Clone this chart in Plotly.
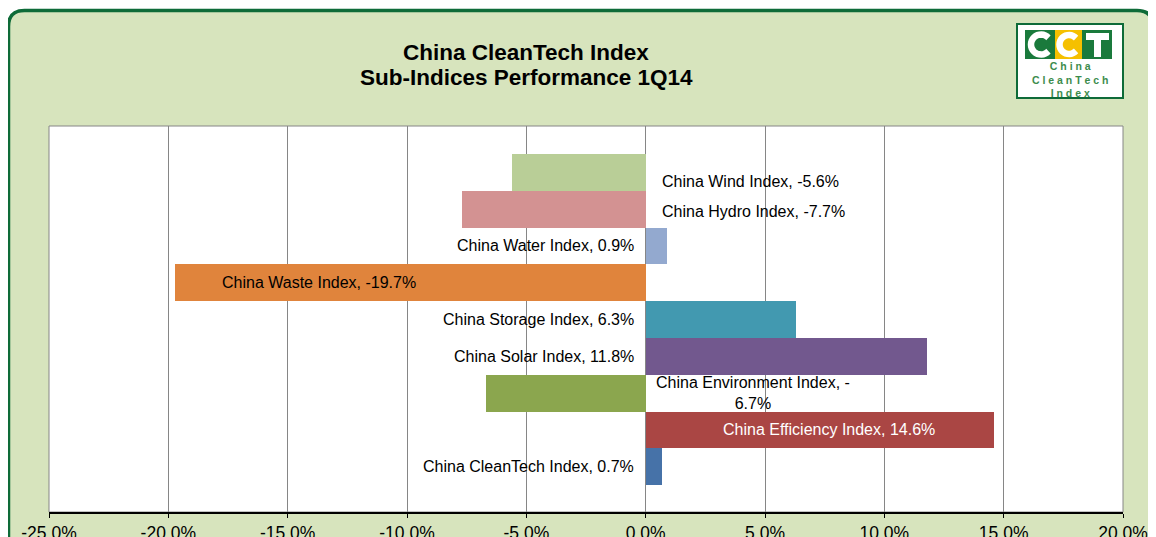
import math
import plotly.graph_objects as go

# ── DATA ────────────────────────────────────────────────────────
indices = ['China Wind Index', 'China Hydro Index', 'China Water Index',
           'China Waste Index', 'China Storage Index', 'China Solar Index',
           'China Environment Index', 'China Efficiency Index',
           'China CleanTech Index']
returns = [-5.6, -7.7, 0.9, -19.7, 6.3, 11.8, -6.7, 14.6, 0.7]
colors = ['#B9CE97', '#D39292', '#93A9CF', '#E0843C', '#4299B0',
          '#72588E', '#8BA64E', '#AA4644', '#4672A8']

tick_vals = [-25, -20, -15, -10, -5, 0, 5, 10, 15, 20]
tick_text = ['-25.0%', '-20.0%', '-15.0%', '-10.0%', '-5.0%', '0.0%',
             '5.0%', '10.0%', '15.0%', '20.0%']

title_lines = ['China CleanTech Index', 'Sub-Indices Performance 1Q14']
logo_words = ['China', 'CleanTech', 'Index']

# labels that sit inside their bar (x position in %), the rest hug the zero line
inside_label_x = {'China Waste Index': -13.7, 'China Efficiency Index': 7.7}
label_yshift = {'China Wind Index': -9, 'China Hydro Index': -2}

# ── LAYOUT NUMBERS (pixels of the screenshot) ───────────────────
# the page body adds an 8px margin, so the figure sits 8px right/down
OFF = 8
W, H = 1156, 537
PLOT_X0, PLOT_X1, PLOT_Y0, PLOT_Y1 = 49, 1123, 126, 512
PW, PH = PLOT_X1 - PLOT_X0, PLOT_Y1 - PLOT_Y0
L, T = PLOT_X0 - OFF, PLOT_Y0 - OFF
R, B = W - L - PW, H - T - PH
FONT = 'Liberation Sans, Arial, sans-serif'
GREEN_BG = '#D7E4BD'
GREEN_DARK = '#0E6B38'
LOGO_GREEN = '#1A7A3C'


def px(x):
    return (x - PLOT_X0) / PW


def py(y):
    return (PLOT_Y1 - y) / PH


def rounded_rect(x0, y0, x1, y1, r):
    # screenshot pixel box -> paper path with rounded corners
    a, b, c, d = px(x0), py(y1), px(x1), py(y0)
    rx, ry = r / PW, r / PH
    return (f'M{a + rx},{d} L{c - rx},{d} Q{c},{d} {c},{d - ry} '
            f'L{c},{b + ry} Q{c},{b} {c - rx},{b} L{a + rx},{b} '
            f'Q{a},{b} {a},{b + ry} L{a},{d - ry} Q{a},{d} {a + rx},{d} Z')


def letter_c(cx, cy, r):
    # open arc for the logo "C"
    pts = []
    for k in range(25):
        ang = math.radians(42 + k * (276 / 24))
        pts.append((px(cx + r * math.cos(ang)), py(cy - r * math.sin(ang))))
    return 'M' + ' L'.join(f'{x},{y}' for x, y in pts)


def pbox(x0, y0, x1, y1, color):
    return dict(type='rect', x0=px(x0), x1=px(x1), y0=py(y1), y1=py(y0),
                xref='paper', yref='paper', fillcolor=color,
                line=dict(width=0), layer='above')


# ── CHART ───────────────────────────────────────────────────────
pos = list(range(len(indices)))

fig = go.Figure()
fig.add_trace(go.Bar(
    x=returns,
    y=pos,
    orientation='h',
    width=1,
    marker=dict(color=colors, line=dict(width=0)),
    hovertext=indices,
    hoverinfo='text+x',
))

# data labels
for i, (name, val) in enumerate(zip(indices, returns)):
    text = f'{name}, {val:.1f}%'
    if name == 'China Environment Index':
        text = f'{name}, -<br>{abs(val):.1f}%'
    ann = dict(y=i, yref='y', xref='x', text=text, showarrow=False,
               yanchor='middle', align='center',
               yshift=label_yshift.get(name, 0),
               font=dict(family=FONT, size=16, color='black'))
    if name in inside_label_x:
        ann.update(x=inside_label_x[name], xanchor='center')
        if name == 'China Efficiency Index':
            ann['font'] = dict(family=FONT, size=16, color='white')
    elif val < 0:
        ann.update(x=0, xanchor='left', xshift=8 if '<br>' in text else 14)
    else:
        ann.update(x=0, xanchor='right', xshift=-10)
    fig.add_annotation(**ann)

# title
for line, y in zip(title_lines, [52, 77]):
    fig.add_annotation(x=px(526), y=py(y), xref='paper', yref='paper',
                       text=f'<b>{line}</b>', showarrow=False,
                       xanchor='center', yanchor='middle',
                       font=dict(family=FONT, size=22.5, color='black'))

# ── FRAME + LOGO ────────────────────────────────────────────────
shapes = [
    dict(type='path', path=rounded_rect(8.5, 10.5, 1153, 580, 16),
         xref='paper', yref='paper', fillcolor=GREEN_BG,
         line=dict(color=GREEN_DARK, width=3.5), layer='below'),
    dict(type='rect', x0=0, x1=1, y0=0, y1=1, xref='paper', yref='paper',
         fillcolor='white', line=dict(color='#868686', width=1), layer='below'),
    # logo box and the three CCT blocks
    dict(type='rect', x0=px(1017), x1=px(1123), y0=py(98), y1=py(24),
         xref='paper', yref='paper', fillcolor='white',
         line=dict(color=GREEN_DARK, width=2), layer='above'),
    pbox(1025, 30, 1055, 59, LOGO_GREEN),
    pbox(1055, 30, 1082, 59, '#F5C000'),
    pbox(1082, 30, 1112, 59, LOGO_GREEN),
    dict(type='path', path=letter_c(1041, 44.5, 10), xref='paper', yref='paper',
         line=dict(color='white', width=6.5), layer='above'),
    dict(type='path', path=letter_c(1069, 44.5, 9.5), xref='paper', yref='paper',
         line=dict(color='white', width=6.5), layer='above'),
    pbox(1086, 33, 1109, 40, 'white'),
    pbox(1094, 33, 1101, 57, 'white'),
]

logo_text = '<br>'.join(' '.join(word) for word in logo_words)
fig.add_annotation(x=px(1070), y=py(79), xref='paper', yref='paper',
                   text=f'<b>{logo_text}</b>', showarrow=False,
                   xanchor='center', yanchor='middle', align='center',
                   font=dict(family=FONT, size=10.5, color='#3C8C4C'))

fig.update_layout(
    width=W, height=H,
    margin=dict(l=L, r=R, t=T, b=B),
    paper_bgcolor='white',
    plot_bgcolor='white',
    showlegend=False,
    shapes=shapes,
    bargap=0,
    xaxis=dict(
        range=[-25, 20],
        tickvals=tick_vals,
        ticktext=tick_text,
        showgrid=True, gridcolor='#868686', gridwidth=1,
        zeroline=False,
        showline=True, linecolor='black', linewidth=1.5,
        ticks='outside', ticklen=4, tickcolor='black',
        tickfont=dict(family=FONT, size=17.5, color='black'),
        automargin=False,
        fixedrange=True,
    ),
    yaxis=dict(
        range=[9.23, -1.26],
        showticklabels=False, showgrid=False, zeroline=False,
        showline=False, ticks='',
        automargin=False,
        fixedrange=True,
    ),
)

fig.write_html('out.html')
